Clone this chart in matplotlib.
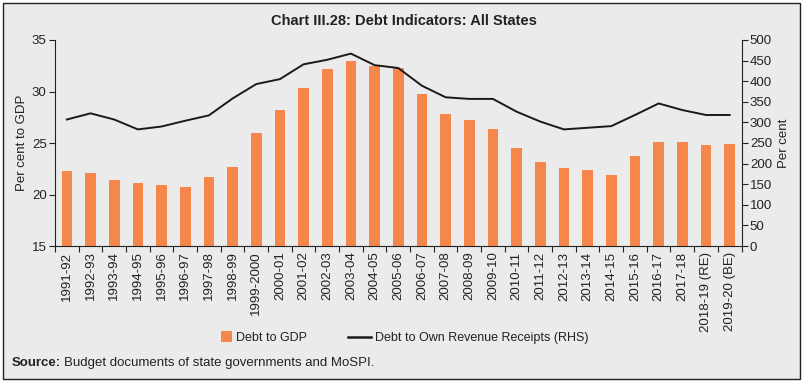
import matplotlib
matplotlib.use("Agg")
import matplotlib.pyplot as plt
from matplotlib.patches import Rectangle
from matplotlib.lines import Line2D
from matplotlib.legend_handler import HandlerPatch
from matplotlib.ticker import FixedLocator

REG = "Liberation Sans"

years = ["1991-92", "1992-93", "1993-94", "1994-95", "1995-96", "1996-97", "1997-98",
         "1998-99", "1999-2000", "2000-01", "2001-02", "2002-03", "2003-04", "2004-05",
         "2005-06", "2006-07", "2007-08", "2008-09", "2009-10", "2010-11", "2011-12",
         "2012-13", "2013-14", "2014-15", "2015-16", "2016-17", "2017-18",
         "2018-19 (RE)", "2019-20 (BE)"]
debt_gdp = [22.3, 22.1, 21.4, 21.1, 20.9, 20.7, 21.7, 22.7, 26.0, 28.2, 30.3, 32.2,
            33.0, 32.5, 32.3, 29.8, 27.8, 27.2, 26.4, 24.5, 23.2, 22.6, 22.4, 21.9,
            23.7, 25.1, 25.1, 24.8, 24.9]
debt_orr = [307, 322, 307, 283, 290, 304, 317, 358, 393, 405, 441, 452, 467, 439,
            432, 389, 361, 357, 357, 326, 302, 283, 287, 291, 318, 346, 330, 318, 318]

BG = "#ebebeb"
ORANGE = "#f5874a"
TXT = "#222222"

fig = plt.figure(figsize=(8.08, 3.86), dpi=100)
fig.patch.set_facecolor("white")
fig.patches.append(Rectangle((3/808, 1 - 379/386), 797/808, 376/386, transform=fig.transFigure,
                             facecolor=BG, edgecolor="#222222", linewidth=1.0, zorder=-10))

ax = fig.add_axes([55/808, 1 - 246/386, (741.5 - 55)/808, (246 - 40)/386])
ax.set_facecolor("none")
x = list(range(len(years)))
ax.bar(x, debt_gdp, width=0.45, color=ORANGE, bottom=0, zorder=2)
ax.set_ylim(15, 35)
ax.set_xlim(-0.5, len(years) - 0.5)
ax.set_yticks([15, 20, 25, 30, 35])
ax.set_xticks(x)
ax.set_xticklabels(years, rotation=90, fontsize=9.5, family=REG, color=TXT)
ax.xaxis.set_minor_locator(FixedLocator([i - 0.5 for i in range(len(years) + 1)]))
ax.tick_params(axis="x", which="major", length=0, pad=4)
ax.tick_params(axis="x", which="minor", length=4, width=0.8, color="#222222")
ax.tick_params(axis="y", length=4, width=0.8, labelsize=9.5, colors=TXT, pad=2)
for t in ax.get_yticklabels():
    t.set_family(REG)
ax.set_ylabel("Per cent to GDP", fontsize=9.5, family=REG, color=TXT, labelpad=3)
ax.spines["top"].set_visible(False)
ax.spines["right"].set_visible(False)
for s in ("left", "bottom"):
    ax.spines[s].set_linewidth(0.8)
    ax.spines[s].set_color("#222222")

ax2 = ax.twinx()
ax2.plot(x, debt_orr, color="#1a1a1a", linewidth=1.4, zorder=3)
ax2.set_ylim(0, 500)
ax2.set_yticks(range(0, 501, 50))
ax2.tick_params(axis="y", length=4, width=0.8, labelsize=9.5, colors=TXT, pad=2)
for t in ax2.get_yticklabels():
    t.set_family(REG)
ax2.set_ylabel("Per cent", fontsize=9.5, family=REG, color=TXT, labelpad=4)
ax2.spines["top"].set_visible(False)
ax2.spines["left"].set_visible(False)
ax2.spines["bottom"].set_visible(False)
ax2.spines["right"].set_linewidth(0.8)
ax2.spines["right"].set_color("#222222")

fig.text(404/808, 1 - 21/386, "Chart III.28: Debt Indicators: All States", ha="center", va="center",
         fontsize=10.5, fontweight="bold", family=REG, color=TXT)


def square_patch(legend, orig_handle, xdescent, ydescent, width, height, fontsize):
    s = height * 1.15
    return Rectangle((width - s - xdescent, -ydescent + (height - s) / 2), s, s)


handles = [Rectangle((0, 0), 1, 1, facecolor=ORANGE, edgecolor="none"),
           Line2D([0], [0], color="#1a1a1a", linewidth=1.8)]
fig.legend(handles, ["Debt to GDP", "Debt to Own Revenue Receipts (RHS)"],
           loc="center", bbox_to_anchor=(399/808, 1 - 338/386), ncol=2, frameon=False,
           prop={"family": REG, "size": 9}, handlelength=1.8, handleheight=0.8,
           columnspacing=3.3, handletextpad=0.3, labelcolor=TXT,
           handler_map={Rectangle: HandlerPatch(patch_func=square_patch)})

fig.canvas.draw()
r = fig.canvas.get_renderer()
src = fig.text(12/808, 1 - 363/386, "Source:", ha="left", va="center", fontsize=9.5,
               family=REG, fontweight="bold", color=TXT)
w = src.get_window_extent(renderer=r).width
fig.text(12/808 + (w + 3) / 808, 1 - 363/386, "Budget documents of state governments and MoSPI.",
         ha="left", va="center", fontsize=9.5, family=REG, color=TXT)
fig.savefig("out.png", dpi=100, facecolor="white")
